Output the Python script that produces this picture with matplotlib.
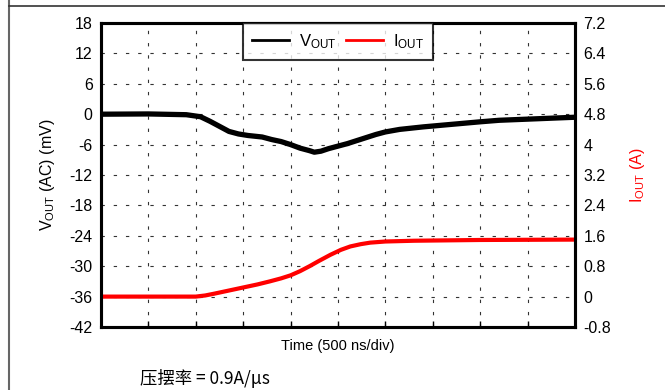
import numpy as np
import matplotlib
matplotlib.use('Agg')
import matplotlib.pyplot as plt
from matplotlib.lines import Line2D

plt.rcParams['font.family'] = ['Liberation Sans', 'Noto Sans CJK SC', 'DejaVu Sans']
plt.rcParams['mathtext.default'] = 'regular'
plt.rcParams['axes.unicode_minus'] = False

# time in ns (500 ns/div, 10 divisions)
t_vout = [0, 500, 900, 1050, 1150, 1250, 1350, 1450, 1550, 1700, 1800, 1900, 2000, 2100,
          2200, 2250, 2320, 2400, 2500, 2600, 2750, 2900, 3000, 3150, 3400, 3700, 4000,
          4200, 4600, 5000]
vout_mv = [0, 0.05, -0.1, -0.5, -1.4, -2.4, -3.4, -3.9, -4.2, -4.5, -5.0, -5.4, -6.0, -6.7,
           -7.2, -7.5, -7.3, -6.8, -6.3, -5.8, -4.9, -4.0, -3.5, -3.0, -2.5, -2.0, -1.5,
           -1.2, -0.9, -0.6]

t_iout = [0, 1000, 1100, 1200, 1350, 1500, 1650, 1780, 1900, 2000, 2100, 2200, 2300, 2420,
          2530, 2630, 2740, 2840, 3000, 3300, 4000, 5000]
iout_a = [0, 0, 0.03, 0.08, 0.16, 0.24, 0.32, 0.4, 0.48, 0.56, 0.67, 0.8, 0.94, 1.1,
          1.23, 1.32, 1.38, 1.42, 1.45, 1.47, 1.49, 1.5]

left_ticks = np.arange(-42, 19, 6)
right_ticks = np.round(np.arange(-0.8, 7.3, 0.8), 1)
x_ticks = np.arange(0, 5001, 500)

fig = plt.figure(figsize=(6.65, 3.9), dpi=100)
ax = fig.add_axes([101 / 665, 1 - 327 / 390, 474 / 665, 304 / 390])
ax2 = ax.twinx()

grid_style = dict(color='#333333', linestyle=(0, (3, 8)), linewidth=0.8)
ax.grid(True, **grid_style)
ax.set_axisbelow(True)

l1, = ax.plot(t_vout, vout_mv, color='black', linewidth=3.8, label=r'V$_{OUT}$',
              solid_joinstyle='round')
l2, = ax2.plot(t_iout, iout_a, color='#ff0000', linewidth=3.0, label=r'I$_{OUT}$',
               solid_joinstyle='round')

ax.set_xlim(0, 5000)
ax.set_ylim(-42, 18)
ax2.set_ylim(-0.8, 7.2)
ax.set_xticks(x_ticks)
ax.set_xticklabels([])
ax.set_yticks(left_ticks)
ax2.set_yticks(right_ticks)
ax2.set_yticklabels(['%g' % v for v in right_ticks])

ax.tick_params(axis='x', direction='in', length=4, width=1, top=False)
ax.tick_params(axis='y', direction='in', length=0, labelsize=11.5, pad=6)
ax2.tick_params(axis='y', direction='in', length=0, labelsize=11.5, pad=6)

for a in (ax, ax2):
    for s in a.spines.values():
        s.set_linewidth(2.2)

ax.set_xlabel('Time (500 ns/div)', fontsize=10.5, labelpad=5)
ax.set_ylabel(r'V$_{OUT}$ (AC) (mV)', fontsize=11.5, labelpad=9)
ax2.set_ylabel(r'I$_{OUT}$ (A)', fontsize=11.5, color='#ff0000', labelpad=12)

leg = ax2.legend(handles=[l1, l2], loc='upper center', ncol=2, fontsize=12,
                 frameon=True, fancybox=False, borderaxespad=0,
                 handlelength=2.2, columnspacing=0.6, handletextpad=0.6,
                 borderpad=0.55)
leg.get_frame().set_edgecolor('black')
leg.get_frame().set_linewidth(1.5)
for h in leg.get_lines():
    h.set_linewidth(2)

fig.text(140 / 665, 1 - 378 / 390, '压摆率 = 0.9A/μs', fontsize=12.5,
         family=['Noto Sans CJK SC', 'Liberation Sans'], va='center', ha='left')

# page border lines
fig.add_artist(Line2D([9 / 665, 9 / 665], [0, 1], color='#666666', linewidth=1.5))
fig.add_artist(Line2D([9 / 665, 1], [1 - 5.5 / 390, 1 - 5.5 / 390], color='#333333', linewidth=1.2))

fig.savefig('out.png', dpi=100)
